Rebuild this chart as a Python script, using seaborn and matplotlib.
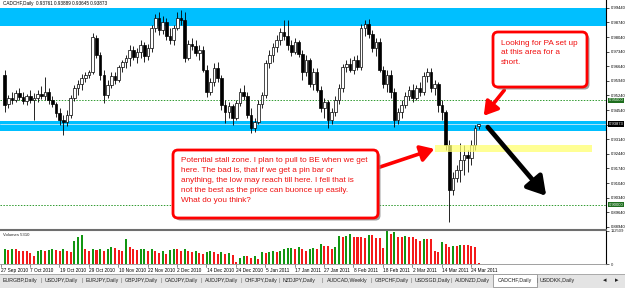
import numpy as np
import pandas as pd
import seaborn as sns
import matplotlib
matplotlib.use("Agg")
import matplotlib.pyplot as plt
from matplotlib.patches import FancyBboxPatch, Rectangle, FancyArrowPatch
from matplotlib.transforms import blended_transform_factory

# ---------------- data ----------------
opens = [0.9622, 0.9483, 0.9512, 0.9502, 0.9536, 0.9517, 0.9498, 0.9521, 0.9502, 0.9512,
         0.9531, 0.9521, 0.9541, 0.9502, 0.9483, 0.9440, 0.9407, 0.9397, 0.9430, 0.9512,
         0.9560, 0.9579, 0.9608, 0.9622, 0.9636, 0.9799, 0.9718, 0.9622, 0.9526, 0.9574,
         0.9617, 0.9598, 0.9660, 0.9684, 0.9703, 0.9742, 0.9708, 0.9732, 0.9766, 0.9713,
         0.9751, 0.9847, 0.9895, 0.9838, 0.9876, 0.9809, 0.9790, 0.9847, 0.9895, 0.9886,
         0.9703, 0.9771, 0.9761, 0.9727, 0.9742, 0.9646, 0.9541, 0.9589, 0.9656, 0.9608,
         0.9478, 0.9445, 0.9474, 0.9416, 0.9488, 0.9541, 0.9521, 0.9430, 0.9368, 0.9397,
         0.9483, 0.9526, 0.9680, 0.9718, 0.9756, 0.9790, 0.9828, 0.9809, 0.9766, 0.9732,
         0.9780, 0.9723, 0.9636, 0.9694, 0.9579, 0.9636, 0.9550, 0.9464, 0.9493, 0.9407,
         0.9445, 0.9502, 0.9560, 0.9660, 0.9675, 0.9646, 0.9694, 0.9660, 0.9847, 0.9866,
         0.9818, 0.9751, 0.9780, 0.9646, 0.9579, 0.9622, 0.9541, 0.9407, 0.9445, 0.9478,
         0.9521, 0.9550, 0.9512, 0.9560, 0.9541, 0.9617, 0.9636, 0.9560, 0.9579, 0.9478,
         0.9445, 0.9287, 0.9071, 0.9129, 0.9167, 0.9215, 0.9239, 0.9224, 0.9287, 0.93761]
highs = [0.9646, 0.9526, 0.9541, 0.9550, 0.9560, 0.9541, 0.9531, 0.9550, 0.9536, 0.9550,
         0.9569, 0.9612, 0.9560, 0.9521, 0.9493, 0.9464, 0.9430, 0.9454, 0.9526, 0.9574,
         0.9598, 0.9627, 0.9636, 0.9646, 0.9823, 0.9814, 0.9732, 0.9646, 0.9598, 0.9636,
         0.9636, 0.9670, 0.9694, 0.9718, 0.9766, 0.9761, 0.9751, 0.9790, 0.9780, 0.9771,
         0.9862, 0.9914, 0.9924, 0.9905, 0.9895, 0.9847, 0.9862, 0.9924, 0.9933, 0.9924,
         0.9790, 0.9799, 0.9790, 0.9766, 0.9761, 0.9670, 0.9608, 0.9680, 0.9684, 0.9622,
         0.9502, 0.9493, 0.9483, 0.9502, 0.9560, 0.9574, 0.9541, 0.9464, 0.9416, 0.9502,
         0.9541, 0.9694, 0.9742, 0.9775, 0.9814, 0.9847, 0.9886, 0.9886, 0.9790, 0.9799,
         0.9790, 0.9742, 0.9718, 0.9703, 0.9656, 0.9656, 0.9569, 0.9512, 0.9502, 0.9464,
         0.9521, 0.9579, 0.9675, 0.9694, 0.9703, 0.9713, 0.9718, 0.9866, 0.9886, 0.9890,
         0.9838, 0.9799, 0.9799, 0.9665, 0.9646, 0.9646, 0.9560, 0.9464, 0.9502, 0.9541,
         0.9569, 0.9579, 0.9574, 0.9589, 0.9636, 0.9656, 0.9656, 0.9598, 0.9589, 0.9502,
         0.9454, 0.9311, 0.9157, 0.9191, 0.9296, 0.9287, 0.9263, 0.9311, 0.9383, 0.93889]
lows = [0.9445, 0.9464, 0.9483, 0.9493, 0.9502, 0.9483, 0.9478, 0.9488, 0.9407, 0.9493,
        0.9507, 0.9502, 0.9483, 0.9469, 0.9421, 0.9383, 0.9335, 0.9378, 0.9416, 0.9498,
        0.9526, 0.9550, 0.9589, 0.9608, 0.9627, 0.9703, 0.9598, 0.9488, 0.9512, 0.9560,
        0.9579, 0.9589, 0.9636, 0.9656, 0.9665, 0.9694, 0.9680, 0.9703, 0.9684, 0.9694,
        0.9732, 0.9828, 0.9814, 0.9818, 0.9790, 0.9771, 0.9766, 0.9838, 0.9862, 0.9684,
        0.9694, 0.9742, 0.9713, 0.9694, 0.9636, 0.9517, 0.9526, 0.9569, 0.9589, 0.9454,
        0.9392, 0.9416, 0.9383, 0.9407, 0.9474, 0.9502, 0.9416, 0.9344, 0.9349, 0.9387,
        0.9464, 0.9512, 0.9656, 0.9684, 0.9732, 0.9766, 0.9790, 0.9742, 0.9713, 0.9723,
        0.9708, 0.9598, 0.9617, 0.9565, 0.9550, 0.9541, 0.9445, 0.9416, 0.9368, 0.9387,
        0.9426, 0.9483, 0.9541, 0.9636, 0.9636, 0.9627, 0.9646, 0.9646, 0.9809, 0.9799,
        0.9732, 0.9713, 0.9636, 0.9560, 0.9541, 0.9512, 0.9373, 0.9387, 0.9416, 0.9464,
        0.9502, 0.9493, 0.9502, 0.9521, 0.9526, 0.9589, 0.9541, 0.9526, 0.9445, 0.9407,
        0.9263, 0.8918, 0.9047, 0.9110, 0.9110, 0.9143, 0.9157, 0.9191, 0.9263, 0.93645]
closes = [0.9478, 0.9512, 0.9502, 0.9536, 0.9517, 0.9498, 0.9521, 0.9502, 0.9512, 0.9531,
          0.9521, 0.9541, 0.9502, 0.9483, 0.9440, 0.9407, 0.9397, 0.9430, 0.9512, 0.9560,
          0.9579, 0.9608, 0.9622, 0.9636, 0.9804, 0.9718, 0.9622, 0.9526, 0.9574, 0.9617,
          0.9598, 0.9660, 0.9684, 0.9703, 0.9742, 0.9708, 0.9732, 0.9766, 0.9713, 0.9751,
          0.9847, 0.9895, 0.9838, 0.9876, 0.9809, 0.9790, 0.9847, 0.9895, 0.9886, 0.9703,
          0.9771, 0.9761, 0.9727, 0.9742, 0.9646, 0.9541, 0.9589, 0.9656, 0.9608, 0.9478,
          0.9445, 0.9474, 0.9416, 0.9488, 0.9541, 0.9521, 0.9430, 0.9368, 0.9397, 0.9483,
          0.9526, 0.9680, 0.9718, 0.9756, 0.9790, 0.9828, 0.9809, 0.9766, 0.9732, 0.9780,
          0.9723, 0.9636, 0.9694, 0.9579, 0.9636, 0.9550, 0.9464, 0.9493, 0.9407, 0.9445,
          0.9502, 0.9560, 0.9660, 0.9675, 0.9646, 0.9694, 0.9660, 0.9847, 0.9866, 0.9818,
          0.9751, 0.9780, 0.9646, 0.9579, 0.9622, 0.9541, 0.9407, 0.9445, 0.9478, 0.9521,
          0.9550, 0.9512, 0.9560, 0.9541, 0.9617, 0.9636, 0.9560, 0.9579, 0.9478, 0.9445,
          0.9287, 0.9071, 0.9129, 0.9167, 0.9215, 0.9239, 0.9224, 0.9287, 0.9368, 0.93873]
volumes_k = [50, 48, 52, 51, 45, 45, 44, 39,
             28, 45, 48, 46, 47, 50, 48, 44,
             51, 46, 41, 77, 92, 98, 50, 46,
             52, 48, 51, 46, 50, 57, 55, 48,
             45, 84, 57, 51, 48, 50, 52, 45,
             51, 46, 39, 45, 33, 48, 51, 50,
             46, 51, 45, 40, 45, 39, 35, 40,
             45, 42, 35, 40, 33, 38, 30, 6,
             21, 27, 27, 20, 27, 18, 40, 37,
             40, 45, 42, 44, 51, 53, 56, 51,
             57, 52, 46, 51, 55, 50, 69, 63,
             63, 51, 57, 96, 92, 96, 101, 92,
             92, 92, 89, 98, 98, 89, 88, 53,
             112, 101, 110, 92, 92, 94, 92, 92,
             86, 80, 86, 84, 84, 45, 41, 75,
             69, 57, 60, 60, 65, 65, 65, 60,
             57, 5]
date_labels = ["27 Sep 2010", "7 Oct 2010", "19 Oct 2010", "29 Oct 2010", "10 Nov 2010",
               "22 Nov 2010", "2 Dec 2010", "14 Dec 2010", "24 Dec 2010", "5 Jan 2011",
               "17 Jan 2011", "27 Jan 2011", "8 Feb 2011", "18 Feb 2011", "2 Mar 2011",
               "14 Mar 2011", "24 Mar 2011"]
date_label_bars = [0, 8, 16, 24, 32, 40, 48, 56, 64, 72, 80, 88, 96, 104, 112, 120, 128]
price_ticks = [0.88940, 0.89640, 0.90340, 0.91040, 0.91740, 0.92440, 0.93140, 0.93840,
               0.94540, 0.95240, 0.95940, 0.96640, 0.97340, 0.98040, 0.98740, 0.99440]
level_lines = [0.95000, 0.90000]
resistance_zones = [(0.9857, 0.9943), (0.9354, 0.9402)]
stall_zone = (117.1, 159.8, 0.9253, 0.9287)
volume_max = 112509
header = "CADCHF,Daily  0.93761 0.93889 0.93645 0.93873"
volume_title = "Volumes 5310"
tabs = ["EURGBP,Daily", "USDJPY,Daily", "EURJPY,Daily", "GBPJPY,Daily", "CADJPY,Daily",
        "AUDJPY,Daily", "CHFJPY,Daily", "NZDJPY,Daily", "AUDCAD,Weekly", "GBPCHF,Daily",
        "USDSGD,Daily", "AUDNZD,Daily", "CADCHF,Daily", "USDDKK,Daily"]
active_tab = "CADCHF,Daily"
note_right = "Looking for PA set up\nat this area for a\nshort."
note_left = ("Potential stall zone. I plan to pull to BE when we get\n"
             "here. The bad is, that if we get a pin bar or\n"
             "anything, the low may reach till here. I fell that is\n"
             "not the best as the price can buonce up easily.\n"
             "What do you think?")

# ---------------- style ----------------
sns.set_theme(style="white")
plt.rcParams["font.family"] = ["Liberation Sans", "DejaVu Sans"]
SMALL = ["Liberation Sans", "DejaVu Sans"]
AXFS = 3.0

W, H = 625, 288
fig = plt.figure(figsize=(W / 100, H / 100), dpi=100)
fig.patch.set_facecolor("white")


def fbox(x0, y0, x1, y1):
    return [x0 / W, 1 - y1 / H, (x1 - x0) / W, (y1 - y0) / H]


ax = fig.add_axes(fbox(0, 0, 606, 229))
axv = fig.add_axes(fbox(0, 231, 606, 264))
n = len(closes)
idx = np.arange(n)
XL = (-1.25, 163.6)

O = np.array(opens); Hh = np.array(highs); L = np.array(lows); C = np.array(closes)
up = C >= O

# zones
for lo, hi in resistance_zones:
    ax.axhspan(lo, hi, color="#00bfff", lw=0, zorder=1)
ax.axhline(closes[-1], color="#c8e8f8", lw=0.6, zorder=1.5)
for lv in level_lines:
    ax.axhline(lv, color="#2f9a2f", lw=0.7, ls=(0, (1.5, 1.5)), zorder=1.5)

# candles
ax.vlines(idx, L, Hh, color="black", lw=0.6, zorder=2)
body = np.maximum(np.abs(C - O), 0.00025)
ax.bar(idx, body, bottom=np.minimum(O, C), width=0.72,
       color=np.where(up, "white", "black"), edgecolor="black", linewidth=0.5, zorder=3)

ax.add_patch(Rectangle((stall_zone[0], stall_zone[2]), stall_zone[1] - stall_zone[0],
                       stall_zone[3] - stall_zone[2], facecolor="#ffff70", alpha=0.75,
                       lw=0, zorder=4))

ax.set_xlim(*XL)
ax.set_ylim(0.8884, 0.99813)
ax.yaxis.tick_right()
ax.set_yticks(price_ticks)
ax.set_yticklabels(["" if abs(t - closes[-1]) < 0.0012 else f"{t:.5f}" for t in price_ticks],
                   fontsize=AXFS, family=SMALL)
ax.tick_params(axis="y", right=True, length=2, width=0.5, pad=1.2, colors="black")
ax.set_xticks([])
for s in ["top", "left", "bottom"]:
    ax.spines[s].set_visible(False)
ax.spines["right"].set_color("black")
ax.spines["right"].set_linewidth(0.8)

yb = blended_transform_factory(ax.transAxes, ax.transData)
for lv in level_lines:
    ax.text(1.0045, lv, f"{lv:.5f}", transform=yb, fontsize=AXFS, family=SMALL,
            color="white", va="center", ha="left", zorder=6,
            bbox=dict(facecolor="#1d6e1d", edgecolor="none", pad=0.5))
ax.text(1.0045, closes[-1], f"{closes[-1]:.5f}", transform=yb, fontsize=AXFS, family=SMALL,
        color="white", va="center", ha="left", zorder=6,
        bbox=dict(facecolor="black", edgecolor="none", pad=0.5))

# volumes
vdf = pd.DataFrame({"bar": idx, "vol": volumes_k})
vdf["dir"] = np.where(vdf["vol"].diff().fillna(1) > 0, "up", "down")
sns.barplot(data=vdf, x="bar", y="vol", hue="dir", palette={"up": "#119611", "down": "#f41a1a"},
            native_scale=True, width=0.55, dodge=False, errorbar=None, saturation=1,
            legend=False, ax=axv, zorder=3, linewidth=0)
axv.set_xlim(*XL)
axv.set_ylim(0, volume_max / 1000)
axv.yaxis.tick_right()
axv.set_yticks([0, volume_max / 1000])
axv.set_yticklabels(["0", str(volume_max)], fontsize=AXFS, family=SMALL)
axv.tick_params(axis="y", right=True, length=2, width=0.5, pad=1.2)
axv.set_xticks([])
axv.set_xlabel(""); axv.set_ylabel("")
for s in ["top", "left"]:
    axv.spines[s].set_visible(False)
axv.spines["right"].set_color("black"); axv.spines["right"].set_linewidth(0.8)
axv.spines["bottom"].set_color("#909090"); axv.spines["bottom"].set_linewidth(0.6)
xb = blended_transform_factory(axv.transData, axv.transAxes)
for b, lab in zip(date_label_bars, date_labels):
    axv.text(b - 1.0, -0.12, lab, transform=xb, fontsize=3.4, family=SMALL,
             ha="left", va="top", color="black")
    axv.plot([b - 1.1, b - 1.1], [0, -0.08], transform=xb, color="#606060", lw=0.5,
             clip_on=False)

# overlay (annotations, frame elements)
ov = fig.add_axes([0, 0, 1, 1], zorder=10)
ov.set_xlim(0, W); ov.set_ylim(H, 0); ov.axis("off"); ov.patch.set_alpha(0)

ov.text(3, 3.5, header, fontsize=3.3, family=SMALL, va="center", ha="left", color="black")
ov.text(3, 234.5, volume_title, fontsize=3.1, family=SMALL, va="center", ha="left")
ov.plot([0, 607], [230, 230], color="#6e6e6e", lw=1.5, solid_capstyle="butt")

# tab bar
ov.add_patch(Rectangle((0, 273.5), W, 14.5, facecolor="#e4e4e4", edgecolor="none"))
ov.plot([0, W], [273.5, 273.5], color="#a0a0a0", lw=0.6)
tab_x = [3, 45, 86, 125, 165, 205, 245, 283, 327, 375, 415, 455, 498, 540]
for tx, t in zip(tab_x, tabs):
    if t == active_tab:
        ov.add_patch(Rectangle((tx - 5, 273.5), 44, 13.5, facecolor="white",
                               edgecolor="#808080", lw=0.5))
    ov.text(tx, 280.5, t, fontsize=3.8, family=SMALL, va="center", ha="left", color="#202020")
for sx in [41, 82, 121, 161, 201, 241, 279, 322, 371, 411, 451, 537]:
    ov.text(sx, 280.5, "|", fontsize=4, va="center", ha="center", color="#707070")
ov.text(605, 280.5, "\u25c2", fontsize=5, va="center", ha="center", color="#202020",
        family=["DejaVu Sans"])
ov.text(617, 280.5, "\u25b8", fontsize=5, va="center", ha="center", color="#202020",
        family=["DejaVu Sans"])

RED = "#ff0000"


def callout(x0, y0, x1, y1, text, fs, ls, dy):
    sh = FancyBboxPatch((x0 + 2.5, y0 + 2.5), x1 - x0, y1 - y0,
                        boxstyle="round,pad=0,rounding_size=5", facecolor="#8a8a8a",
                        edgecolor="none", alpha=0.8, zorder=20)
    bx = FancyBboxPatch((x0, y0), x1 - x0, y1 - y0, boxstyle="round,pad=0,rounding_size=5",
                        facecolor="white", edgecolor=RED, lw=2.0, zorder=21)
    ov.add_patch(sh); ov.add_patch(bx)
    ov.text(x0 + 8, y0 + dy, text, fontsize=fs, color="#f01010", va="top", ha="left",
            linespacing=ls, zorder=22)


callout(493, 32, 587, 87, note_right, 5.9, 1.48, 8.0)
callout(173, 150, 378, 218, note_left, 5.9, 1.55, 7.5)

ov.add_patch(FancyArrowPatch((506, 88), (482, 118), arrowstyle="-|>,head_length=0.9,head_width=0.55",
                             mutation_scale=9, color=RED, lw=2.6, zorder=19))
ov.add_patch(FancyArrowPatch((377, 168), (437, 148), arrowstyle="-|>,head_length=0.9,head_width=0.55",
                             mutation_scale=9, color=RED, lw=2.6, zorder=19))
ov.add_patch(FancyArrowPatch((486, 125), (548, 198), arrowstyle="-|>,head_length=1.0,head_width=0.6",
                             mutation_scale=11, color="black", lw=3.4, zorder=19))

fig.savefig("out.png", dpi=100)
